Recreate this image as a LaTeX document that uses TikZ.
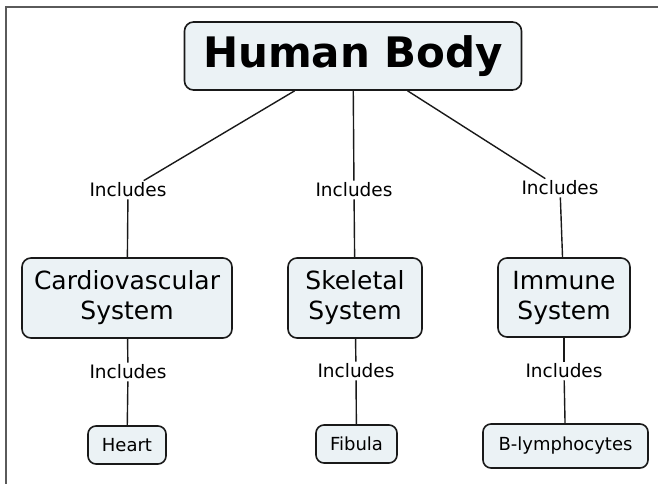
\documentclass[tikz,border=0pt]{standalone}
\usepackage{fontspec}
\setmainfont{DejaVu Sans}
\definecolor{boxfill}{RGB}{235,242,245}
\definecolor{framegray}{RGB}{90,90,90}
\begin{document}
\begin{tikzpicture}[x=1pt,y=-1pt,
  concept/.style={draw=black!90, line width=1.6pt, fill=boxfill, rounded corners=9pt, align=center, inner sep=0pt},
  bigtext/.style={font=\fontsize{25}{30}\selectfont},
  leaftext/.style={font=\fontsize{18}{22}\selectfont},
  linkword/.style={inner sep=2pt, font=\fontsize{18.5}{22}\selectfont},
  conn/.style={line width=1.4pt, draw=black!90}]
\useasboundingbox (0,0) rectangle (658,484);
\draw[framegray, line width=2pt] (658,7) -- (6,7) -- (6,484);

\node[concept, minimum width=337pt, minimum height=68pt, font=\fontsize{42}{50}\selectfont\bfseries] (hb) at (353,56) {Human Body};

\node[concept, bigtext, minimum width=210pt, minimum height=80pt] (cv) at (127,298) {Cardiovascular\\System};
\node[concept, bigtext, minimum width=134pt, minimum height=80pt] (sk) at (355,298) {Skeletal\\System};
\node[concept, bigtext, minimum width=132pt, minimum height=79pt] (im) at (564,297.5) {Immune\\System};

\node[concept, leaftext, rounded corners=8pt, minimum width=78pt, minimum height=38pt] (he) at (127,445) {Heart};
\node[concept, leaftext, rounded corners=8pt, minimum width=81pt, minimum height=38pt] (fi) at (356.5,444) {Fibula};
\node[concept, leaftext, rounded corners=8pt, minimum width=165pt, minimum height=44pt] (bl) at (565.5,446) {B-lymphocytes};

\node[linkword] (i1) at (128,190) {Includes};
\node[linkword] (i2) at (354,190) {Includes};
\node[linkword] (i3) at (560,188) {Includes};
\node[linkword] (i4) at (128,372) {Includes};
\node[linkword] (i5) at (356,371) {Includes};
\node[linkword] (i6) at (564,371) {Includes};

\draw[conn] (hb) -- (i1);
\draw[conn] (hb) -- (i2);
\draw[conn] (hb) -- (i3);
\draw[conn] (i1) -- (cv);
\draw[conn] (i2) -- (sk);
\draw[conn] (i3) -- (im);
\draw[conn] (cv) -- (i4);
\draw[conn] (sk) -- (i5);
\draw[conn] (im) -- (i6);
\draw[conn] (i4) -- (he);
\draw[conn] (i5) -- (fi);
\draw[conn] (i6) -- (bl);
\end{tikzpicture}
\end{document}
